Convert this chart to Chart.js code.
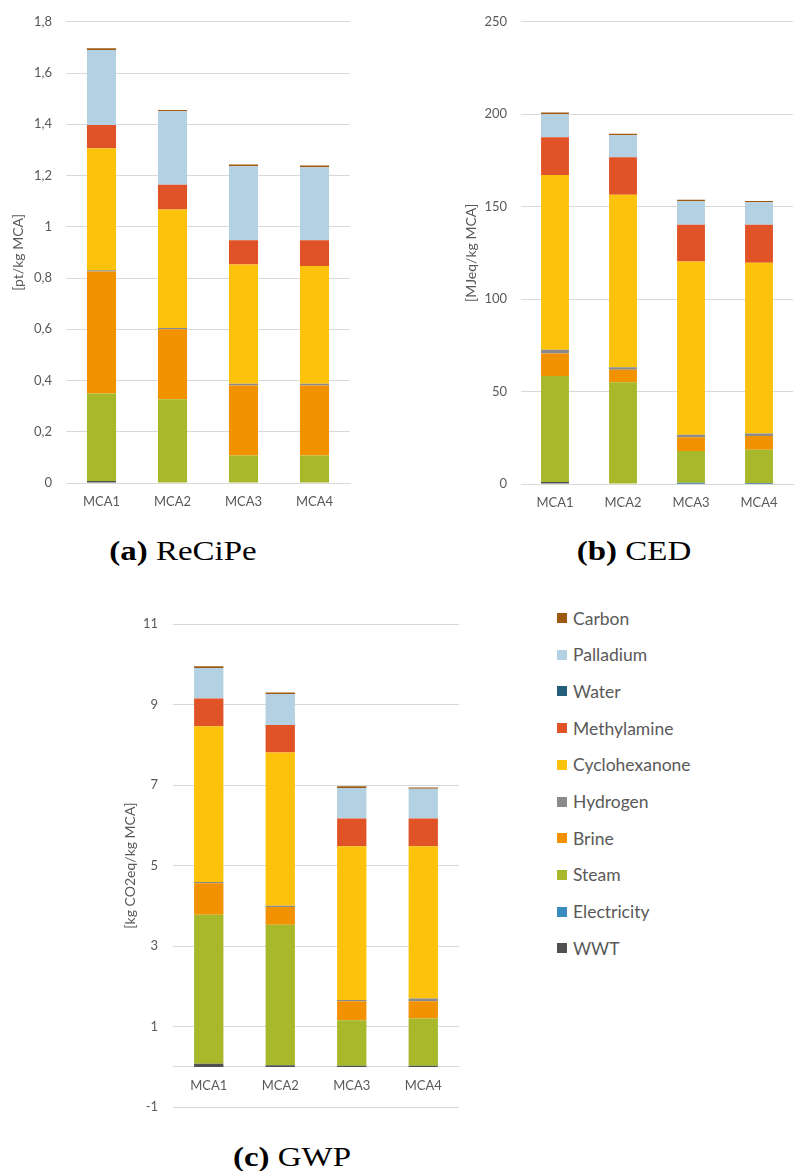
<!DOCTYPE html>
<html><head><meta charset="utf-8">
<script src="https://cdn.jsdelivr.net/npm/chart.js@4.4.1/dist/chart.umd.min.js"></script>
<style>
html,body{margin:0;padding:0;background:#fff;}
body{width:794px;height:1171px;position:relative;overflow:hidden;}
canvas{position:absolute;}
.cap{position:absolute;font-family:"Liberation Serif",serif;font-size:27px;line-height:27px;color:#000;white-space:nowrap;transform:translateX(-50%) scaleX(1.22);transform-origin:50% 50%;}
.li{position:absolute;height:20px;display:flex;align-items:center;font-family:Lato,sans-serif;font-size:17.5px;color:#595959;white-space:nowrap;}
.sw{display:inline-block;width:10px;height:10px;margin-right:6px;}
</style></head><body>
<canvas id="ca" width="360" height="510" style="left:0;top:0"></canvas>
<canvas id="cb" width="374" height="510" style="left:420px;top:0"></canvas>
<canvas id="cc" width="380" height="530" style="left:100px;top:600px"></canvas>
<div class="cap" style="left:183px;top:538px"><b>(a)</b> ReCiPe</div>
<div class="cap" style="left:634px;top:538px"><b>(b)</b> CED</div>
<div class="cap" style="left:292px;top:1144px"><b>(c)</b> GWP</div>
<div id="legend"></div>
<script>
// ---- data ----
const categories = ['MCA1', 'MCA2', 'MCA3', 'MCA4'];
const seriesNames = ['WWT', 'Electricity', 'Steam', 'Brine', 'Hydrogen', 'Cyclohexanone', 'Methylamine', 'Water', 'Palladium', 'Carbon'];
const seriesColors = ['#505050', '#3A8BC0', '#A8B82B', '#F39200', '#8A8A8A', '#FDC20B', '#E05327', '#255E78', '#B3D1E2', '#9E5A12'];

// (a) ReCiPe [pt/kg MCA]
const recipeWWT = [0.008, 0.002, 0.002, 0.002];
const recipeElectricity = [0, 0, 0, 0];
const recipeSteam = [0.341, 0.325, 0.105, 0.105];
const recipeBrine = [0.476, 0.273, 0.274, 0.274];
const recipeHydrogen = [0.005, 0.005, 0.006, 0.006];
const recipeCyclohexanone = [0.476, 0.462, 0.466, 0.460];
const recipeMethylamine = [0.091, 0.097, 0.094, 0.100];
const recipeWater = [0, 0, 0, 0];
const recipePalladium = [0.293, 0.287, 0.289, 0.285];
const recipeCarbon = [0.007, 0.005, 0.007, 0.007];
const recipeTicks = ['0', '0,2', '0,4', '0,6', '0,8', '1', '1,2', '1,4', '1,6', '1,8'];

// (b) CED [MJeq/kg MCA]
const cedWWT = [1.1, 0.3, 0.2, 0.2];
const cedElectricity = [0, 0, 0.5, 0.4];
const cedSteam = [57.3, 54.7, 17.1, 17.9];
const cedBrine = [12.2, 6.8, 7.5, 7.4];
const cedHydrogen = [2.0, 1.3, 1.3, 1.4];
const cedCyclohexanone = [94.5, 93.3, 93.8, 92.4];
const cedMethylamine = [20.4, 20.3, 19.8, 20.5];
const cedWater = [0, 0, 0, 0];
const cedPalladium = [12.5, 12.0, 12.7, 12.2];
const cedCarbon = [0.9, 0.7, 0.8, 0.7];
const cedTicks = ['0', '50', '100', '150', '200', '250'];

// (c) GWP [kg CO2eq/kg MCA]
const gwpWWT = [0.08, 0.04, 0.03, 0.03];
const gwpElectricity = [0, 0, 0, 0];
const gwpSteam = [3.70, 3.49, 1.13, 1.17];
const gwpBrine = [0.78, 0.44, 0.47, 0.43];
const gwpHydrogen = [0.03, 0.03, 0.03, 0.07];
const gwpCyclohexanone = [3.87, 3.81, 3.82, 3.78];
const gwpMethylamine = [0.69, 0.68, 0.69, 0.69];
const gwpWater = [0, 0, 0, 0];
const gwpPalladium = [0.76, 0.77, 0.76, 0.74];
const gwpCarbon = [0.04, 0.04, 0.04, 0.03];
const gwpTicks = ['-1', '1', '3', '5', '7', '9', '11'];

const recipeData = [recipeWWT, recipeElectricity, recipeSteam, recipeBrine, recipeHydrogen, recipeCyclohexanone, recipeMethylamine, recipeWater, recipePalladium, recipeCarbon];
const cedData = [cedWWT, cedElectricity, cedSteam, cedBrine, cedHydrogen, cedCyclohexanone, cedMethylamine, cedWater, cedPalladium, cedCarbon];
const gwpData = [gwpWWT, gwpElectricity, gwpSteam, gwpBrine, gwpHydrogen, gwpCyclohexanone, gwpMethylamine, gwpWater, gwpPalladium, gwpCarbon];

const GRID = '#D9D9D9', TXT = '#595959';

function makeChart(id, data, o) {
  const xScale = {
    stacked: true,
    position: o.xPos || 'bottom',
    grid: {display: false, drawTicks: false},
    border: {display: true, color: GRID, width: 1},
    ticks: {padding: o.xPad, color: TXT, font: {family: 'Lato', size: 13}}
  };
  if (o.xH) xScale.afterFit = s => { s.height = o.xH; };
  return new Chart(document.getElementById(id), {
    type: 'bar',
    data: {
      labels: categories,
      datasets: seriesNames.map((n, i) => ({
        label: n, data: data[i], backgroundColor: seriesColors[i],
        borderWidth: 0, barPercentage: 0.41, categoryPercentage: 1
      }))
    },
    options: {
      responsive: false, animation: false, devicePixelRatio: 1,
      layout: {padding: o.padding},
      plugins: {legend: {display: false}, tooltip: {enabled: false}},
      scales: {
        x: xScale,
        y: {
          stacked: true, min: o.min, max: o.max,
          ticks: {stepSize: o.step, padding: o.yPad, color: TXT, font: {family: 'Lato', size: 13},
                  callback: (v, i) => o.ticks[i]},
          grid: {color: GRID, lineWidth: 1, drawTicks: false},
          border: {display: false},
          title: {display: true, text: o.title, color: TXT, font: {family: 'Lato', size: 14},
                  padding: {top: o.titlePad, bottom: 0}},
          afterFit: s => { s.width = o.yW; }
        }
      }
    }
  });
}

makeChart('ca', recipeData, {min: 0, max: 1.8, step: 0.2, ticks: recipeTicks, title: '[pt/kg MCA]',
  padding: {left: 0, top: 19, right: 10, bottom: 0}, yW: 66, xH: 27, xPad: 11, yPad: 14, titlePad: 9.6});
makeChart('cb', cedData, {min: 0, max: 250, step: 50, ticks: cedTicks, title: '[MJeq/kg MCA]',
  padding: {left: 0, top: 21, right: 1, bottom: 0}, yW: 101, xH: 26, xPad: 11, yPad: 14, titlePad: 43.3});
makeChart('cc', gwpData, {min: -1, max: 11, step: 2, ticks: gwpTicks, title: '[kg CO2eq/kg MCA]',
  padding: {left: 0, top: 24, right: 21, bottom: 19}, yW: 73, xPos: {y: 0}, xPad: 11, yPad: 15, titlePad: 22.3});

// legend (reverse order: Carbon on top)
const leg = document.getElementById('legend');
seriesNames.slice().reverse().forEach((n, k) => {
  const i = seriesNames.length - 1 - k;
  const d = document.createElement('div');
  d.className = 'li';
  d.style.left = '557px';
  d.style.top = (618 + k * 36.7 - 10) + 'px';
  d.innerHTML = '<span class="sw" style="background:' + seriesColors[i] + '"></span>' + n;
  leg.appendChild(d);
});
</script>
</body></html>
